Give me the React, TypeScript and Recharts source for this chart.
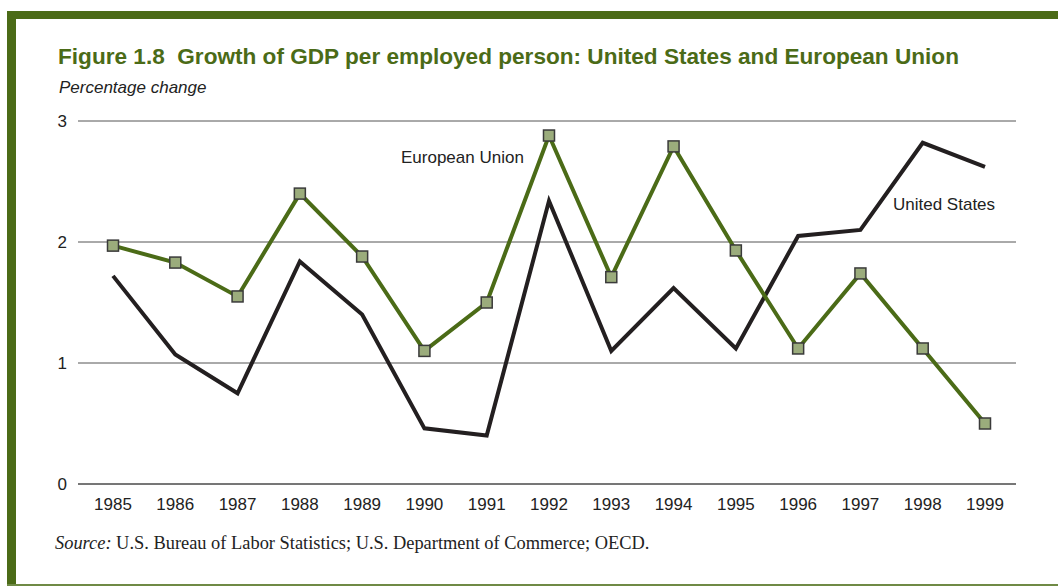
import React from "react";
import { CartesianGrid, Line, LineChart, XAxis, YAxis } from "recharts";

const years = [
  "1985", "1986", "1987", "1988", "1989", "1990", "1991", "1992",
  "1993", "1994", "1995", "1996", "1997", "1998", "1999"
];
const euGrowth = [1.97, 1.83, 1.55, 2.4, 1.88, 1.1, 1.5, 2.88, 1.71, 2.79, 1.93, 1.12, 1.74, 1.12, 0.5];
const usGrowth = [1.72, 1.07, 0.75, 1.84, 1.4, 0.46, 0.4, 2.34, 1.1, 1.62, 1.12, 2.05, 2.1, 2.82, 2.62];
const yTicks = [0, 1, 2, 3];

const GREEN = "#4b6b17";
const data = years.map((year, i) => ({ year, eu: euGrowth[i], us: usGrowth[i] }));

function SquareDot(props: any) {
  const { cx, cy } = props;
  if (cx == null || cy == null) return null;
  return (
    <rect
      x={cx - 5.5}
      y={cy - 5.5}
      width={11}
      height={11}
      fill="#9bac7c"
      stroke="#3a3a3a"
      strokeWidth={1.5}
    />
  );
}

export default function App() {
  const sans = "'Liberation Sans', Arial, sans-serif";
  return (
    <div
      style={{
        position: "absolute",
        top: 0,
        left: 0,
        width: 1058,
        height: 586,
        background: "#fff",
        overflow: "hidden",
        fontFamily: sans
      }}
    >
      <div style={{ position: "absolute", left: 7, top: 11, width: 1051, height: 8, background: GREEN }} />
      <div style={{ position: "absolute", left: 7, top: 11, width: 9, height: 575, background: GREEN }} />
      <div style={{ position: "absolute", left: 7, top: 584, width: 1051, height: 2, background: "#6f8a45" }} />

      <div
        style={{
          position: "absolute",
          left: 58,
          top: 44,
          fontSize: 22.6,
          fontWeight: "bold",
          color: GREEN,
          whiteSpace: "nowrap"
        }}
      >
        Figure 1.8&nbsp; Growth of GDP per employed person: United States and European Union
      </div>
      <div
        style={{
          position: "absolute",
          left: 59,
          top: 78,
          fontSize: 17,
          fontStyle: "italic",
          color: "#222"
        }}
      >
        Percentage change
      </div>

      <div style={{ position: "absolute", left: 0, top: 0 }}>
        <LineChart
          width={1058}
          height={586}
          data={data}
          margin={{ top: 121, right: 42, bottom: 72, left: 0 }}
        >
          <CartesianGrid vertical={false} stroke="#555" strokeWidth={1} />
          <XAxis
            dataKey="year"
            height={30}
            axisLine={{ stroke: "#444" }}
            tickLine={false}
            tickSize={0}
            tickMargin={14}
            padding={{ left: 35, right: 31 }}
            tick={{ fill: "#222", fontSize: 17, fontFamily: sans }}
          />
          <YAxis
            width={78}
            domain={[0, 3]}
            ticks={yTicks}
            axisLine={false}
            tickLine={false}
            tickSize={0}
            tickMargin={11}
            tick={{ fill: "#222", fontSize: 17, fontFamily: sans }}
          />
          <Line
            dataKey="us"
            stroke="#231f20"
            strokeWidth={4}
            dot={false}
            strokeLinejoin="miter"
            isAnimationActive={false}
          />
          <Line
            dataKey="eu"
            stroke={GREEN}
            strokeWidth={4}
            dot={<SquareDot />}
            activeDot={false}
            strokeLinejoin="miter"
            isAnimationActive={false}
          />
        </LineChart>
      </div>

      <div style={{ position: "absolute", left: 401, top: 148, fontSize: 17, color: "#222" }}>
        European Union
      </div>
      <div style={{ position: "absolute", left: 893, top: 195, fontSize: 17, color: "#222" }}>
        United States
      </div>

      <div
        style={{
          position: "absolute",
          left: 55,
          top: 533,
          fontSize: 18.4,
          fontFamily: "'Liberation Serif', 'Times New Roman', serif",
          color: "#222",
          whiteSpace: "nowrap"
        }}
      >
        <i>Source:</i> U.S. Bureau of Labor Statistics; U.S. Department of Commerce; OECD.
      </div>
    </div>
  );
}
